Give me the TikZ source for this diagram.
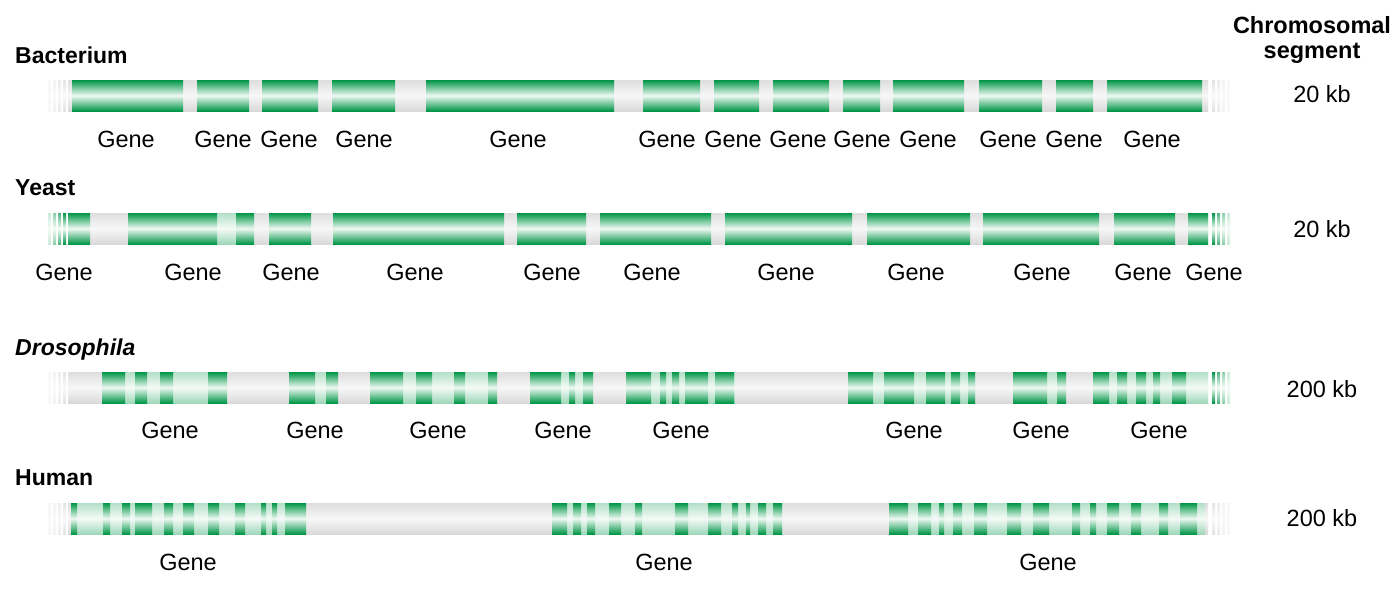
\documentclass[tikz,border=0pt]{standalone}
\usepackage{fontspec}
\setmainfont{Liberation Sans}
\definecolor{genegreen}{RGB}{0,150,70}
\tikzset{
    every node/.style={font=\fontsize{23.5}{27}\selectfont, inner sep=0pt},
    dnabar/.style={top color=black!13, bottom color=black!15, middle color=black!3},
    dnafade/.style={top color=black!#1, bottom color=black!#1, middle color=black!2},
    exonbar/.style={top color=genegreen, bottom color=genegreen, middle color=genegreen!6},
    exonfade/.style={top color=genegreen!#1, bottom color=genegreen!#1, middle color=genegreen!4},
    intronbar/.style={top color=genegreen!30, bottom color=genegreen!38, middle color=genegreen!4},
    speciesname/.style={anchor=west, font=\fontsize{23}{27}\selectfont\bfseries},
    genelabel/.style={}
}

\begin{document}
\begin{tikzpicture}[x=1pt, y=-1pt]
    \useasboundingbox[fill=white] (0,0) rectangle (1400,592);

    % column head
    \node[font=\fontsize{23.5}{27}\selectfont\bfseries, align=center] (segment) at (1312,40) {Chromosomal\\[-2pt]segment};

    % Bacterium
    \node[speciesname] (bacterium) at (15,55) {Bacterium};
    \fill[dnabar] (68,80) rectangle (1208,111);
    \foreach \k/\o in {0/3,1/5,2/8,3/11} {
        \fill[dnafade=\o] ({48+5*\k},80) rectangle ++(3,31);
        \fill[dnafade=\o] ({1227-5*\k},80) rectangle ++(3,31);
    }
    \foreach \a/\b in {72/183,197/249,262/318,332/395,426/614,643/700,714/759,773/829,843/880,893/964,979/1042,1056/1093,1107/1202}
        \fill[exonbar] (\a,80) rectangle (\b,111);
    \foreach \x [count=\i] in {126,223,289,364,518,667,733,798,862,928,1008,1074,1152}
        \node[genelabel] (bacgene\i) at (\x,139) {Gene};
    \node (backb) at (1322,94) {20 kb};

    % Yeast
    \node[speciesname] (yeast) at (15,188) {Yeast};
    \fill[dnabar] (68,213) rectangle (1208,244);
    \foreach \k/\o in {0/20,1/45,2/70,3/100} {
        \fill[exonfade=\o] ({48+5*\k},213) rectangle ++(3,31);
        \fill[exonfade=\o] ({1227-5*\k},213) rectangle ++(3,31);
    }
    \fill[intronbar] (217,213) rectangle (236,244);
    \foreach \a/\b in {68/90,128/217,236/254,269/311,333/504,517/586,600/711,725/852,867/970,983/1099,1114/1175,1188/1208}
        \fill[exonbar] (\a,213) rectangle (\b,244);
    \foreach \x [count=\i] in {64,193,291,415,552,652,786,916,1042,1143,1214}
        \node[genelabel] (yeastgene\i) at (\x,272) {Gene};
    \node (yeastkb) at (1322,229) {20 kb};

    % Drosophila
    \node[speciesname, font=\fontsize{23}{27}\selectfont\bfseries\itshape] (drosophila) at (15,350) {Drosophila};
    \fill[dnabar] (68,372) rectangle (1208,403);
    \foreach \k/\o in {0/3,1/5,2/8,3/11} {
        \fill[dnafade=\o] ({48+5*\k},372) rectangle ++(3,31);
    }
    \foreach \k/\o in {0/20,1/45,2/70,3/100} {
        \fill[exonfade=\o] ({1227-5*\k},372) rectangle ++(3,31);
    }
    \foreach \a/\b in {102/227,289/338,370/497,530/593,627/735,848/975,1013/1066,1093/1208}
        \fill[intronbar] (\a,372) rectangle (\b,403);
    \foreach \a/\b in {102/125,135/147,160/173,208/227,289/315,326/338,370/403,416/432,454/465,488/497,
                       530/561,569/575,583/593,626/651,660/666,672/679,685/708,715/734,
                       848/873,884/914,926/945,951/960,968/975,1013/1047,1057/1066,
                       1093/1109,1117/1127,1136/1146,1153/1160,1172/1186}
        \fill[exonbar] (\a,372) rectangle (\b,403);
    \foreach \x [count=\i] in {170,315,438,563,681,914,1041,1159}
        \node[genelabel] (flygene\i) at (\x,430) {Gene};
    \node (flykb) at (1322,389) {200 kb};

    % Human
    \node[speciesname] (human) at (15,478) {Human};
    \fill[dnabar] (68,503) rectangle (1208,534);
    \foreach \k/\o in {0/3,1/5,2/8,3/11} {
        \fill[dnafade=\o] ({48+5*\k},503) rectangle ++(3,31);
        \fill[dnafade=\o] ({1227-5*\k},503) rectangle ++(3,31);
    }
    \foreach \a/\b in {71/306,552/782,889/1205}
        \fill[intronbar] (\a,503) rectangle (\b,534);
    \foreach \a/\b in {71/77,103/110,122/130,135/152,164/173,183/194,208/219,235/245,261/266,272/277,285/306,
                       552/567,573/581,587/595,609/621,635/642,675/688,708/721,732/738,746/750,758/766,773/782,
                       889/908,918/931,939/944,953/962,974/987,1007/1021,1033/1049,1072/1080,1090/1096,
                       1107/1119,1131/1141,1159/1168,1180/1197}
        \fill[exonbar] (\a,503) rectangle (\b,534);
    \foreach \x [count=\i] in {188,664,1048}
        \node[genelabel] (humangene\i) at (\x,562) {Gene};
    \node (humankb) at (1322,518) {200 kb};
\end{tikzpicture}
\end{document}
